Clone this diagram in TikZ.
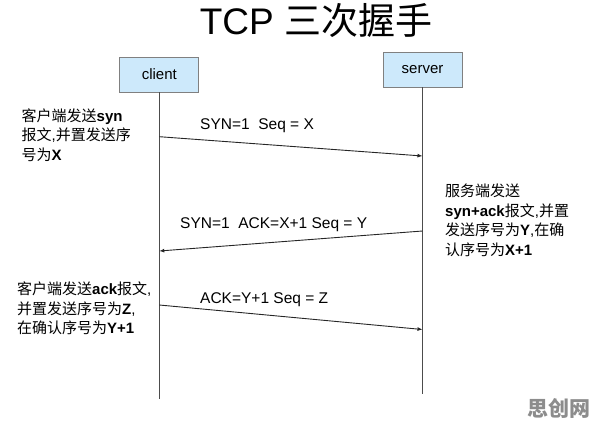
\documentclass[tikz,border=0pt]{standalone}
\usepackage{fontspec}
\setmainfont{Liberation Sans}
\newfontfamily\cjk{Noto Sans CJK SC}
\usetikzlibrary{arrows.meta}
\usepackage{xcolor}

\newcommand{\zh}[1]{{\cjk #1}}
\definecolor{boxblue}{RGB}{205,233,251}

\tikzset{
  hostbox/.style={draw=black!50, line width=0.9pt, fill=boxblue,
    minimum width=79pt, minimum height=35pt, font=\fontsize{15}{18}\selectfont},
  lifeline/.style={draw=black!70, line width=1.2pt},
  msg/.style={draw=black!85, line width=0.9pt, -{Latex[length=5pt,width=4pt]}},
  msglabel/.style={anchor=west, inner sep=0pt, font=\fontsize{15.5}{18}\selectfont},
  note/.style={anchor=north west, align=left, inner sep=0pt,
    font=\fontsize{15}{19.5}\selectfont},
}

\begin{document}
\begin{tikzpicture}[x=1pt,y=-1pt]
      \useasboundingbox (0,0) rectangle (596,427);

      % Titre
      \node[font=\fontsize{37}{40}\selectfont] (title) at (316,21) {TCP \zh{三次握手}};

      % Hotes
      \node[hostbox] (client) at (159.3,74.5) {client};
      \node[hostbox] (server) at (422.5,69.5) {server};

      \coordinate (clientEnd) at (159.3,399);
      \coordinate (serverEnd) at (422.5,394);
      \draw[lifeline] (client.south) -- (clientEnd);
      \draw[lifeline] (server.south) -- (serverEnd);

      % Messages
      \coordinate (synOut) at (159.3,136.7);
      \coordinate (synIn) at (422.5,156);
      \coordinate (ackOut) at (422.5,231);
      \coordinate (ackIn) at (159.3,251);
      \coordinate (finOut) at (159.3,305);
      \coordinate (finIn) at (422.5,329.5);

      \draw[msg] (synOut) -- (synIn);
      \draw[msg] (ackOut) -- (ackIn);
      \draw[msg] (finOut) -- (finIn);

      \node[msglabel] (synLabel) at (200,126) {SYN=1\ \ Seq = X};
      \node[msglabel] (ackLabel) at (180,225) {SYN=1\ \ ACK=X+1 Seq = Y};
      \node[msglabel] (finLabel) at (200,300) {ACK=Y+1 Seq = Z};

      % Notes
      \node[note] (clientNoteA) at (21.5,108.5) {\zh{客户端发送}\textbf{syn}\\
        \zh{报文},\zh{并置发送序}\\
        \zh{号为}\textbf{X}};
      \node[note] (serverNote) at (445,184) {\zh{服务端发送}\\
        \textbf{syn+ack}\zh{报文},\zh{并置}\\
        \zh{发送序号为}\textbf{Y},\zh{在确}\\
        \zh{认序号为}\textbf{X+1}};
      \node[note] (clientNoteB) at (17,282) {\zh{客户端发送}\textbf{ack}\zh{报文},\\
        \zh{并置发送序号为}\textbf{Z},\\
        \zh{在确认序号为}\textbf{Y+1}};

      % Filigrane
      \node[text=black!45, font=\fontsize{21}{24}\selectfont\bfseries] (mark) at (559,408) {\zh{思创网}};
    \end{tikzpicture}
\end{document}
